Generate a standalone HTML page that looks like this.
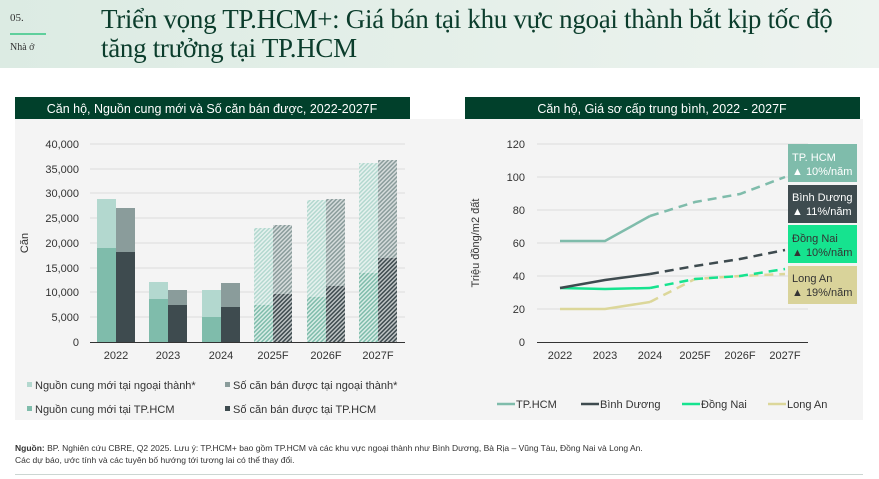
<!DOCTYPE html>
<html><head><meta charset="utf-8"><style>
body{margin:0;width:879px;height:479px;overflow:hidden;background:#fff;font-family:"Liberation Sans",sans-serif;position:relative}
.hdr{position:absolute;left:0;top:0;width:879px;height:68px;background:linear-gradient(90deg,#dcebe3,#e6f0ea 60%,#edf3ef)}
.t{position:absolute;font-family:"Liberation Serif",serif;color:#0b3d2c}
</style></head><body>
<div class="hdr"></div>
<div class="t" style="left:10px;top:12px;font-size:11px;color:#333">05.</div>
<div style="position:absolute;left:10px;top:33px;width:36px;height:2px;background:#5fcf9c"></div>
<div class="t" style="left:10px;top:42px;font-size:10px;color:#333">Nhà ở</div>
<div class="t" style="left:101px;top:5px;font-size:27px;line-height:29px;letter-spacing:-0.3px">Triển vọng TP.HCM+: Giá bán tại khu vực ngoại thành bắt kịp tốc độ<br>tăng trưởng tại TP.HCM</div>
<div style="position:absolute;left:15px;top:119px;width:848px;height:301px;background:#f4f4f4"></div>
<svg width="879" height="479" style="position:absolute;left:0;top:0" font-family="Liberation Sans, sans-serif">
<defs>
<pattern id="pl" width="3" height="3" patternUnits="userSpaceOnUse" patternTransform="rotate(45)"><rect width="3" height="3" fill="#e6f1ee"/><rect width="1.5" height="3" fill="#b3d8cf"/></pattern>
<pattern id="pm" width="3" height="3" patternUnits="userSpaceOnUse" patternTransform="rotate(45)"><rect width="3" height="3" fill="#d9ece6"/><rect width="1.5" height="3" fill="#7fbcab"/></pattern>
<pattern id="pg" width="3" height="3" patternUnits="userSpaceOnUse" patternTransform="rotate(45)"><rect width="3" height="3" fill="#d6dcdc"/><rect width="1.5" height="3" fill="#8a9c9b"/></pattern>
<pattern id="pd" width="3" height="3" patternUnits="userSpaceOnUse" patternTransform="rotate(45)"><rect width="3" height="3" fill="#bfc4c5"/><rect width="1.5" height="3" fill="#3e4b4f"/></pattern>
</defs>
<rect x="15" y="97" width="395" height="22" fill="#01402b"/>
<text x="212" y="113" font-size="12.5" fill="#fff" text-anchor="middle">Căn hộ, Nguồn cung mới và Số căn bán được, 2022-2027F</text>
<rect x="465" y="97" width="395" height="22" fill="#01402b"/>
<text x="662" y="113" font-size="12.5" fill="#fff" text-anchor="middle">Căn hộ, Giá sơ cấp trung bình, 2022 - 2027F</text>
<g stroke="#dcdcdc" stroke-width="1">
<line x1="90" x2="405" y1="144" y2="144"/><line x1="90" x2="405" y1="169" y2="169"/><line x1="90" x2="405" y1="193" y2="193"/><line x1="90" x2="405" y1="218" y2="218"/><line x1="90" x2="405" y1="243" y2="243"/><line x1="90" x2="405" y1="268" y2="268"/><line x1="90" x2="405" y1="292" y2="292"/><line x1="90" x2="405" y1="317" y2="317"/>
<line x1="537" x2="808" y1="144" y2="144"/><line x1="537" x2="808" y1="177" y2="177"/><line x1="537" x2="808" y1="210" y2="210"/><line x1="537" x2="808" y1="243" y2="243"/><line x1="537" x2="808" y1="276" y2="276"/><line x1="537" x2="808" y1="309" y2="309"/>
</g>
<g font-size="11" fill="#333" text-anchor="end">
<text x="79" y="148">40,000</text><text x="79" y="173">35,000</text><text x="79" y="197">30,000</text><text x="79" y="222">25,000</text><text x="79" y="247">20,000</text><text x="79" y="272">15,000</text><text x="79" y="296">10,000</text><text x="79" y="321">5,000</text><text x="79" y="346">0</text>
<text x="525" y="148">120</text><text x="525" y="181">100</text><text x="525" y="214">80</text><text x="525" y="247">60</text><text x="525" y="280">40</text><text x="525" y="313">20</text><text x="525" y="346">0</text>
</g>
<text transform="translate(28,243) rotate(-90)" font-size="11" fill="#333" text-anchor="middle">Căn</text>
<text transform="translate(479,243) rotate(-90)" font-size="11" fill="#333" text-anchor="middle">Triệu đồng/m2 đất</text>
<g>
<rect x="97" y="199" width="19" height="143" fill="#b3d8cf"/><rect x="97" y="248" width="19" height="94" fill="#7fbcab"/>
<rect x="116" y="208" width="19" height="134" fill="#8a9c9b"/><rect x="116" y="252" width="19" height="90" fill="#3e4b4f"/>
<rect x="149" y="282" width="19" height="60" fill="#b3d8cf"/><rect x="149" y="299" width="19" height="43" fill="#7fbcab"/>
<rect x="168" y="290" width="19" height="52" fill="#8a9c9b"/><rect x="168" y="305" width="19" height="37" fill="#3e4b4f"/>
<rect x="202" y="290" width="19" height="52" fill="#b3d8cf"/><rect x="202" y="317" width="19" height="25" fill="#7fbcab"/>
<rect x="221" y="283" width="19" height="59" fill="#8a9c9b"/><rect x="221" y="307" width="19" height="35" fill="#3e4b4f"/>
<rect x="254" y="228" width="19" height="114" fill="url(#pl)"/><rect x="254" y="305" width="19" height="37" fill="url(#pm)"/>
<rect x="273" y="225" width="19" height="117" fill="url(#pg)"/><rect x="273" y="294" width="19" height="48" fill="url(#pd)"/>
<rect x="307" y="200" width="19" height="142" fill="url(#pl)"/><rect x="307" y="297" width="19" height="45" fill="url(#pm)"/>
<rect x="326" y="199" width="19" height="143" fill="url(#pg)"/><rect x="326" y="286" width="19" height="56" fill="url(#pd)"/>
<rect x="359" y="163" width="19" height="179" fill="url(#pl)"/><rect x="359" y="273" width="19" height="69" fill="url(#pm)"/>
<rect x="378" y="160" width="19" height="182" fill="url(#pg)"/><rect x="378" y="258" width="19" height="84" fill="url(#pd)"/>
</g>
<line x1="90" x2="405" y1="342.5" y2="342.5" stroke="#333" stroke-width="1"/>
<line x1="537" x2="808" y1="342.5" y2="342.5" stroke="#333" stroke-width="1"/>
<g font-size="11" fill="#333" text-anchor="middle">
<text x="116" y="359">2022</text><text x="168" y="359">2023</text><text x="221" y="359">2024</text><text x="273" y="359">2025F</text><text x="326" y="359">2026F</text><text x="378" y="359">2027F</text>
<text x="560" y="359">2022</text><text x="605" y="359">2023</text><text x="650" y="359">2024</text><text x="695" y="359">2025F</text><text x="740" y="359">2026F</text><text x="785" y="359">2027F</text>
</g>
<g fill="none" stroke-width="2.5">
<polyline points="560,241 605,241 650,216" stroke="#7fbcab"/>
<polyline points="650,216 695,202 740,194 785,177" stroke="#7fbcab" stroke-dasharray="9,6"/>
<polyline points="560,309 605,309 650,302" stroke="#dcd79a"/>
<polyline points="650,302 695,279 740,276 785,274" stroke="#dcd79a" stroke-dasharray="9,6"/>
<polyline points="560,288 605,289 650,288" stroke="#16e38f"/>
<polyline points="650,288 695,279 740,276 785,269" stroke="#16e38f" stroke-dasharray="9,6"/>
<polyline points="560,288 605,280 650,274" stroke="#3e4b4f"/>
<polyline points="650,274 695,266 740,259 785,250" stroke="#3e4b4f" stroke-dasharray="9,6"/>
</g>
<g font-size="11">
<rect x="788" y="144" width="69" height="38" fill="#7fbcab"/><text x="792" y="161" fill="#fff">TP. HCM</text><text x="792" y="175" fill="#fff">▲ 10%/năm</text>
<rect x="788" y="185" width="69" height="38" fill="#3e4b4f"/><text x="792" y="201" fill="#fff">Bình Dương</text><text x="792" y="215" fill="#fff">▲ 11%/năm</text>
<rect x="788" y="225" width="69" height="38" fill="#16e38f"/><text x="792" y="242" fill="#333">Đồng Nai</text><text x="792" y="256" fill="#333">▲ 10%/năm</text>
<rect x="788" y="266" width="69" height="38" fill="#d9d39a"/><text x="792" y="282" fill="#333">Long An</text><text x="792" y="296" fill="#333">▲ 19%/năm</text>
</g>
<g font-size="11" fill="#333">
<rect x="27" y="382" width="5" height="5" fill="#b3d8cf"/><text x="35" y="389">Nguồn cung mới tại ngoại thành*</text>
<rect x="225" y="382" width="5" height="5" fill="#8a9c9b"/><text x="233" y="389">Số căn bán được tại ngoại thành*</text>
<rect x="27" y="406" width="5" height="5" fill="#7fbcab"/><text x="35" y="413">Nguồn cung mới tại TP.HCM</text>
<rect x="225" y="406" width="5" height="5" fill="#3e4b4f"/><text x="233" y="413">Số căn bán được tại TP.HCM</text>
<line x1="497" x2="515" y1="404" y2="404" stroke="#7fbcab" stroke-width="2.5"/><text x="516" y="408">TP.HCM</text>
<line x1="581" x2="599" y1="404" y2="404" stroke="#3e4b4f" stroke-width="2.5"/><text x="600" y="408">Bình Dương</text>
<line x1="682" x2="700" y1="404" y2="404" stroke="#16e38f" stroke-width="2.5"/><text x="701" y="408">Đồng Nai</text>
<line x1="768" x2="786" y1="404" y2="404" stroke="#dcd79a" stroke-width="2.5"/><text x="787" y="408">Long An</text>
</g>
<g font-size="8.5" fill="#333">
<text x="15" y="451"><tspan font-weight="bold">Nguồn:</tspan> BP. Nghiên cứu CBRE, Q2 2025. Lưu ý: TP.HCM+ bao gồm TP.HCM và các khu vực ngoại thành như Bình Dương, Bà Rịa – Vũng Tàu, Đồng Nai và Long An.</text>
<text x="15" y="463">Các dự báo, ước tính và các tuyên bố hướng tới tương lai có thể thay đổi.</text>
</g>
<line x1="15" x2="863" y1="474.5" y2="474.5" stroke="#ccd6d2" stroke-width="1"/>
</svg>
</body></html>
